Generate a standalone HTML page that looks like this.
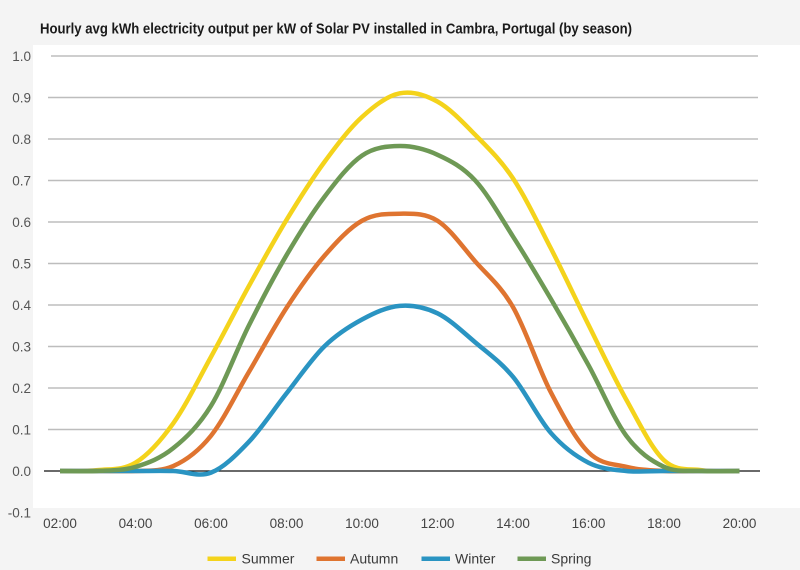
<!DOCTYPE html>
<html>
<head>
<meta charset="utf-8">
<style>
html,body{margin:0;padding:0;background:#f4f4f4;}
body{width:800px;height:570px;overflow:hidden;}
svg{display:block;}
text{font-family:"Liberation Sans",Arial,sans-serif;}
</style>
</head>
<body>
<svg width="800" height="570" viewBox="0 0 800 570" xmlns="http://www.w3.org/2000/svg">
  <rect x="0" y="0" width="800" height="570" fill="#f4f4f4"/>
  <rect x="33" y="45" width="767" height="463" fill="#ffffff"/>

  <text x="40" y="33.5" font-size="14.5" font-weight="bold" fill="#1a1a1a" textLength="592" lengthAdjust="spacingAndGlyphs">Hourly avg kWh electricity output per kW of Solar PV installed in Cambra, Portugal (by season)</text>

  <!-- gridlines -->
  <g stroke="#bdbdbd" stroke-width="1.5">
    <line x1="51" y1="56" x2="758" y2="56"/>
    <line x1="48" y1="97.5" x2="758" y2="97.5"/>
    <line x1="48" y1="139" x2="758" y2="139"/>
    <line x1="48" y1="180.5" x2="758" y2="180.5"/>
    <line x1="48" y1="222" x2="758" y2="222"/>
    <line x1="48" y1="263.5" x2="758" y2="263.5"/>
    <line x1="48" y1="305" x2="758" y2="305"/>
    <line x1="48" y1="346.5" x2="758" y2="346.5"/>
    <line x1="48" y1="388" x2="758" y2="388"/>
    <line x1="48" y1="429.5" x2="758" y2="429.5"/>
  </g>
  <line x1="44" y1="471" x2="760" y2="471" stroke="#111" stroke-width="1.3"/>

  <!-- y labels -->
  <g font-size="13.5" fill="#555" text-anchor="end">
    <text x="31" y="61">1.0</text>
    <text x="31" y="102.5">0.9</text>
    <text x="31" y="144">0.8</text>
    <text x="31" y="185.5">0.7</text>
    <text x="31" y="227">0.6</text>
    <text x="31" y="268.5">0.5</text>
    <text x="31" y="310">0.4</text>
    <text x="31" y="351.5">0.3</text>
    <text x="31" y="393">0.2</text>
    <text x="31" y="434.5">0.1</text>
    <text x="31" y="476">0.0</text>
    <text x="31" y="517.5">-0.1</text>
  </g>

  <!-- x labels -->
  <g font-size="13.5" fill="#444" text-anchor="middle">
    <text x="60" y="528">02:00</text>
    <text x="135.5" y="528">04:00</text>
    <text x="211" y="528">06:00</text>
    <text x="286.5" y="528">08:00</text>
    <text x="362" y="528">10:00</text>
    <text x="437.5" y="528">12:00</text>
    <text x="513" y="528">14:00</text>
    <text x="588.5" y="528">16:00</text>
    <text x="664" y="528">18:00</text>
    <text x="739.5" y="528">20:00</text>
  </g>

  <!-- series -->
  <g fill="none" stroke-width="4.5" stroke-linejoin="round" stroke-linecap="butt">
    <path stroke="#f4d31b" d="M60,471 C72.58,471 85.17,471.55 97.75,470.17 S122.92,470.52 135.5,462.7 S160.67,440.92 173.25,423.28 S198.42,379.71 211,356.88 S236.17,309.16 248.75,286.33 S273.92,240.61 286.5,219.93 S311.67,179.40 324.25,162.24 S349.42,128.48 362,117.0 S387.17,95.91 399.75,93.35 S424.92,94.73 437.5,101.65 S462.67,122.05 475.25,134.85 S500.42,159.55 513,178.43 S538.17,223.73 550.75,248.15 S575.92,299.67 588.5,324.92 S613.67,377.07 626.25,399.62 S651.42,448.45 664,460.21 S689.17,468.37 701.75,470.17 S726.92,471 739.5,471"/>
    <path stroke="#df7430" d="M60,471 C72.58,471 85.17,471 97.75,471 S122.92,471.4 135.5,471 S160.67,471.5 173.25,466.02 S198.42,451.36 211,435.73 S236.17,393.53 248.75,372.23 S273.92,327.28 286.5,307.91 S311.67,270.56 324.25,256.03 S349.42,227.82 362,220.76 S387.17,213.7 399.75,213.7 S424.92,212.8 437.5,220.76 S462.67,247.04 475.25,261.43 S500.42,285.29 513,307.08 S538.17,367.94 550.75,392.15 S575.92,439.88 588.5,452.33 S613.67,463.74 626.25,466.85 S651.42,470.31 664,471 S689.17,471 701.75,471 S726.92,471 739.5,471"/>
    <path stroke="#2a94c2" d="M60,471 C72.58,471 85.17,471 97.75,471 S122.92,471 135.5,471 S160.67,470.72 173.25,471 S198.42,477.5 211,472.66 S236.17,455.16 248.75,441.95 S273.92,409.31 286.5,393.4 S311.67,358.81 324.25,346.5 S349.42,326.31 362,319.53 S387.17,306.87 399.75,305.83 S424.92,307.21 437.5,313.3 S462.67,331.77 475.25,342.35 S500.42,361.72 513,376.8 S538.17,418.5 550.75,432.82 S575.92,456.34 588.5,462.7 S613.67,469.62 626.25,471 S651.42,471 664,471 S689.17,471 701.75,471 S726.92,471 739.5,471"/>
    <path stroke="#6e9955" d="M60,471 C72.58,471 85.17,471.69 97.75,471 S122.92,470.65 135.5,466.85 S160.67,458.35 173.25,448.18 S198.42,426.26 211,405.85 S236.17,350.86 248.75,325.75 S273.92,276.64 286.5,255.2 S311.67,213.7 324.25,197.1 S349.42,164.11 362,155.6 S387.17,146.2 399.75,146.06 S424.92,149.03 437.5,154.77 S462.67,166.87 475.25,180.5 S500.42,216.82 513,236.53 S538.17,277.34 550.75,298.78 S575.92,342.35 588.5,365.18 S613.67,418.78 626.25,435.73 S651.42,460.97 664,466.85 S689.17,470.31 701.75,471 S726.92,471 739.5,471"/>
  </g>

  <!-- legend -->
  <g>
    <rect x="207.5" y="556.5" width="28.5" height="4.5" fill="#f4d31b"/>
    <rect x="316.5" y="556.5" width="28.5" height="4.5" fill="#df7430"/>
    <rect x="421.5" y="556.5" width="28.5" height="4.5" fill="#2a94c2"/>
    <rect x="517.5" y="556.5" width="28.5" height="4.5" fill="#6e9955"/>
  </g>
  <g font-size="14" fill="#3a3a3a">
    <text x="241.5" y="563.5">Summer</text>
    <text x="350" y="563.5">Autumn</text>
    <text x="455" y="563.5">Winter</text>
    <text x="551" y="563.5">Spring</text>
  </g>
</svg>
</body>
</html>
